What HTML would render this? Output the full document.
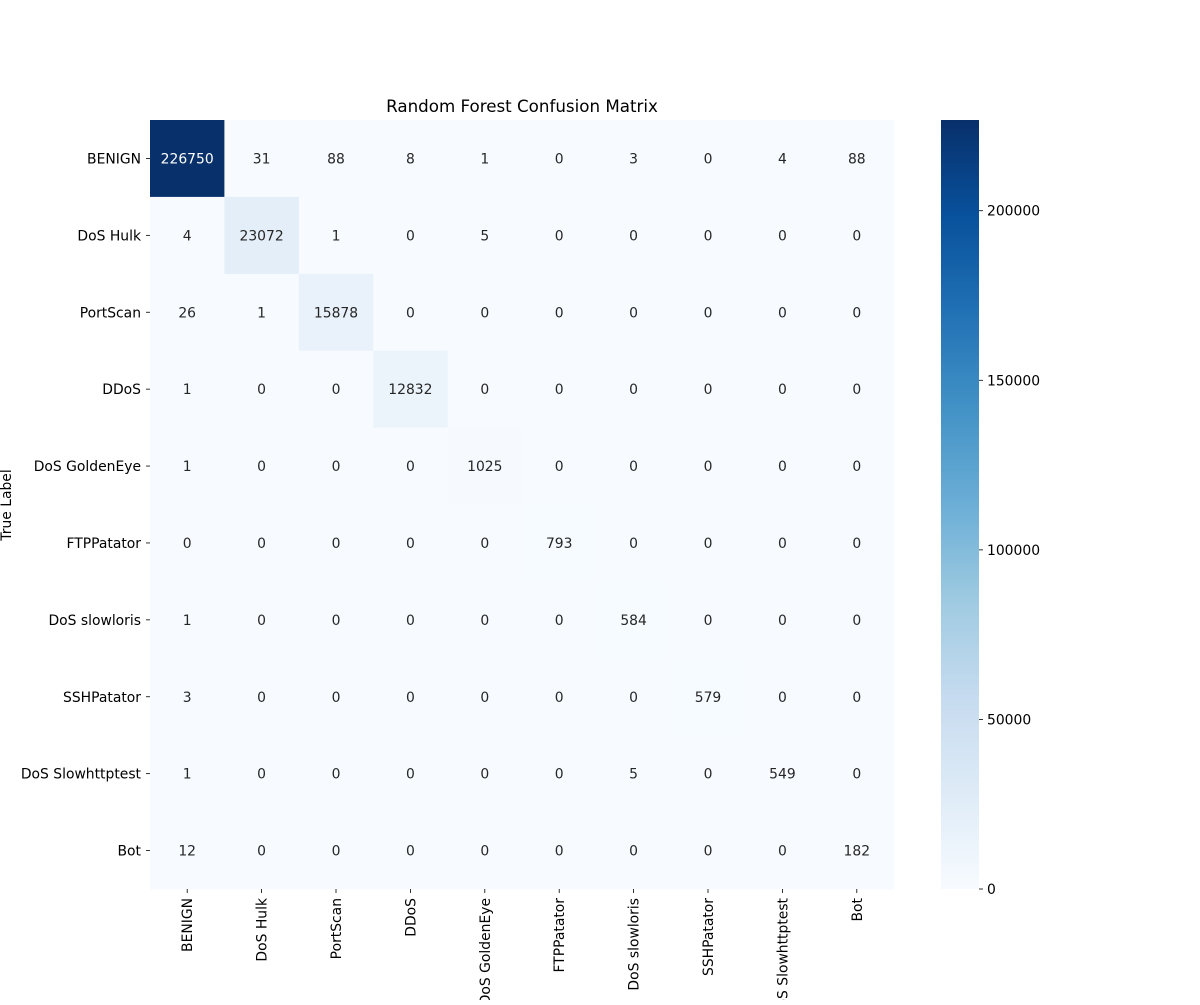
<!DOCTYPE html>
<html><head><meta charset="utf-8"><style>
body{margin:0;background:#fff;}
svg text{font-family:"DejaVu Sans","Liberation Sans",sans-serif;}
</style></head><body>
<svg id="chart" width="1200" height="1000" xmlns="http://www.w3.org/2000/svg">
<defs><linearGradient id="blues" x1="0" y1="1" x2="0" y2="0">
<stop offset="0" stop-color="#f7fbff"/><stop offset="0.125" stop-color="#deebf7"/><stop offset="0.25" stop-color="#c6dbef"/><stop offset="0.375" stop-color="#9ecae1"/><stop offset="0.5" stop-color="#6baed6"/><stop offset="0.625" stop-color="#4292c6"/><stop offset="0.75" stop-color="#2171b5"/><stop offset="0.875" stop-color="#08519c"/><stop offset="1" stop-color="#08306b"/>
</linearGradient></defs>
<text x="522" y="112" text-anchor="middle" font-size="16.7" fill="#000">Random Forest Confusion Matrix</text>
<text transform="translate(11,505) rotate(-90)" text-anchor="middle" font-size="13.9" fill="#000">True Label</text>
<g id="cells"></g><g id="ticks"></g><g id="cbar"></g>
</svg>
<script>
const labels = ["BENIGN","DoS Hulk","PortScan","DDoS","DoS GoldenEye","FTPPatator","DoS slowloris","SSHPatator","DoS Slowhttptest","Bot"];
const row0 = [226750,31,88,8,1,0,3,0,4,88];
const row1 = [4,23072,1,0,5,0,0,0,0,0];
const row2 = [26,1,15878,0,0,0,0,0,0,0];
const row3 = [1,0,0,12832,0,0,0,0,0,0];
const row4 = [1,0,0,0,1025,0,0,0,0,0];
const row5 = [0,0,0,0,0,793,0,0,0,0];
const row6 = [1,0,0,0,0,0,584,0,0,0];
const row7 = [3,0,0,0,0,0,0,579,0,0];
const row8 = [1,0,0,0,0,0,5,0,549,0];
const row9 = [12,0,0,0,0,0,0,0,0,182];
const matrix = [row0,row1,row2,row3,row4,row5,row6,row7,row8,row9];
const cbarTicks = [0,50000,100000,150000,200000];

const NS="http://www.w3.org/2000/svg";
const X0=150,X1=894,Y0=120,Y1=889;
const FS=13.9;
const n=labels.length, cw=(X1-X0)/n, ch=(Y1-Y0)/n;
let vmax=0; matrix.forEach(r=>r.forEach(v=>{if(v>vmax)vmax=v;}));
const vmin=0;
const stops=["#f7fbff","#deebf7","#c6dbef","#9ecae1","#6baed6","#4292c6","#2171b5","#08519c","#08306b"].map(h=>[parseInt(h.substr(1,2),16),parseInt(h.substr(3,2),16),parseInt(h.substr(5,2),16)]);
function color(v){let t=(v-vmin)/(vmax-vmin);t=Math.max(0,Math.min(1,t));const p=t*8,i=Math.min(7,Math.floor(p)),f=p-i;const c=stops[i].map((a,k)=>Math.round(a+(stops[i+1][k]-a)*f));return `rgb(${c})`;}
function el(tag,attrs,parent){const e=document.createElementNS(NS,tag);for(const k in attrs)e.setAttribute(k,attrs[k]);parent.appendChild(e);return e;}
const cells=document.getElementById('cells'), ticks=document.getElementById('ticks'), cbar=document.getElementById('cbar');
matrix.forEach((r,i)=>r.forEach((v,j)=>{
 const rc=el('rect',{x:X0+j*cw,y:Y0+i*ch,width:cw+0.5,height:ch+0.5,fill:color(v)},cells);
 
 
 const t=el('text',{x:X0+(j+0.5)*cw,y:Y0+(i+0.5)*ch+5,'text-anchor':'middle','font-size':FS,fill:(v-vmin)/(vmax-vmin)>0.5?'#ffffff':'#262626'},cells);
 t.textContent=v;
 
 
}));
labels.forEach((l,i)=>{
 const y=Y0+(i+0.5)*ch;
 el('line',{x1:X0-4,x2:X0,y1:y,y2:y,stroke:'#000','stroke-width':0.8},ticks);
 const t=el('text',{x:X0-9,y:y+5,'text-anchor':'end','font-size':FS,fill:'#000'},ticks);
 t.textContent=l;
 
 
 const x=X0+(i+0.5)*cw;
 el('line',{x1:x,x2:x,y1:Y1,y2:Y1+4,stroke:'#000','stroke-width':0.8},ticks);
 const tx=el('text',{transform:`translate(${x+5},${Y1+9}) rotate(-90)`,'text-anchor':'end','font-size':FS,fill:'#000'},ticks);
 tx.textContent=l;
 
 
});
const CX=941,CW=38;
const cb=el('rect',{x:CX,y:Y0,width:CW,height:Y1-Y0,fill:'url(#blues)'},cbar);


cbarTicks.forEach(v=>{
 const y=Y1-(v-vmin)/(vmax-vmin)*(Y1-Y0);
 el('line',{x1:CX+CW,x2:CX+CW+4,y1:y,y2:y,stroke:'#000','stroke-width':0.8},cbar);
 const t=el('text',{x:CX+CW+8,y:y+5,'font-size':FS,fill:'#000'},cbar);
 t.textContent=v;
 
 
});
</script>
</body></html>
